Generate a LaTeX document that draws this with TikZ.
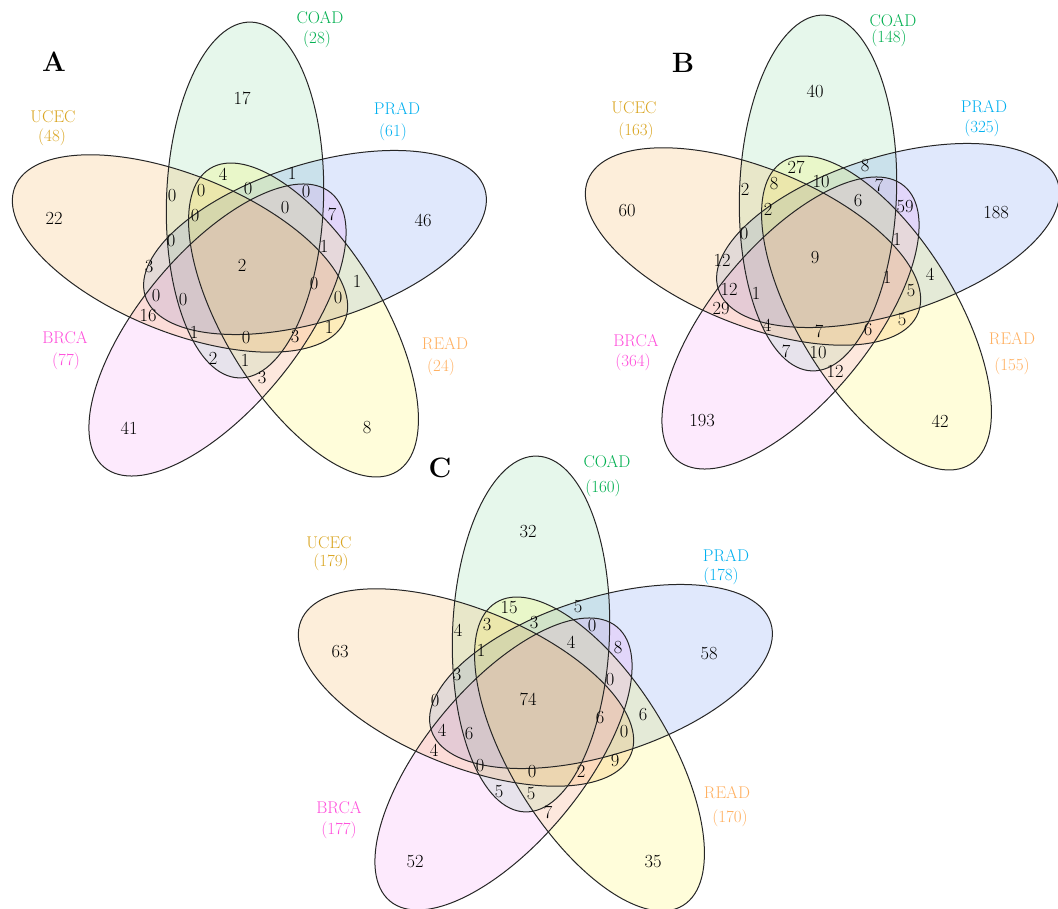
\documentclass[tikz,border=0pt]{standalone}
\usepackage{fontspec}
\definecolor{coadF}{RGB}{88,208,122}
\definecolor{pradF}{RGB}{48,102,235}
\definecolor{readF}{RGB}{255,248,8}
\definecolor{brcaF}{RGB}{242,115,242}
\definecolor{ucecF}{RGB}{248,142,8}
\definecolor{coadT}{RGB}{0,176,80}
\definecolor{ucecT}{RGB}{218,165,32}
\definecolor{pradT}{RGB}{0,176,240}
\definecolor{brcaT}{RGB}{255,80,220}
\definecolor{readT}{RGB}{255,176,96}
\tikzset{
  vline/.style={draw=black!85, line width=1pt},
  num/.style={inner sep=0pt, font=\fontsize{18.5}{20}\selectfont},
  setlab/.style={inner sep=0pt, font=\fontsize{17}{19}\selectfont},
  panel/.style={inner sep=0pt, font=\fontsize{28}{30}\selectfont\bfseries},
}
\newcommand\vennellipses{%
  \foreach \cx/\cy/\ang/\col in {245/200/88/coadF, 315/242.5/17.5/pradF, 303.5/320/-58.3/readF, 217.5/330/50.4/brcaF, 180/253.5/158/ucecF}{
    \fill[fill=\col, fill opacity=0.15, rotate around={\ang:(\cx,\cy)}] (\cx,\cy) ellipse [x radius=178pt, y radius=78.5pt];
  }
  \foreach \cx/\cy/\ang in {245/200/88, 315/242.5/17.5, 303.5/320/-58.3, 217.5/330/50.4, 180/253.5/158}{
    \draw[vline, rotate around={\ang:(\cx,\cy)}] (\cx,\cy) ellipse [x radius=178pt, y radius=78.5pt];
  }
}
\begin{document}
\begin{tikzpicture}[x=1pt,y=-1pt]
\clip (0,0) rectangle (1058,909);
\fill[white] (0,0) rectangle (1058,909);

% ---------------- A ----------------
\begin{scope}
\vennellipses
\foreach \x/\y/\v [count=\i] in {242/98/17, 54/218/22, 423/220/46, 129/428/41, 367/428/8, 242/265/2,
  223/174/4, 292/173/1, 172/196/0, 201/191/0, 248/189/0, 306/192/0, 285/208/0, 332/214/7, 195/216/0,
  171/241/0, 324/246/1, 149/267/3, 314/284/0, 357/281/1, 156/296/0, 183/300/0, 338/298/0, 148/316/16,
  329/327/1, 194/332/1, 246/338/0, 295/337/3, 213/358/2, 245/360/1, 262/378/3}
  {\node[num] (a\i) at (\x,\y) {\v};}
\end{scope}
\node[panel] (pA) at (54,62) {A};
\node[setlab, text=coadT] (aCOAD) at (320,18) {COAD};
\node[setlab, text=coadT] (aCOADn) at (317,39) {(28)};
\node[setlab, text=ucecT] (aUCEC) at (53,117) {UCEC};
\node[setlab, text=ucecT] (aUCECn) at (52,137) {(48)};
\node[setlab, text=pradT] (aPRAD) at (397,109) {PRAD};
\node[setlab, text=pradT] (aPRADn) at (393,132) {(61)};
\node[setlab, text=brcaT] (aBRCA) at (65,338) {BRCA};
\node[setlab, text=brcaT] (aBRCAn) at (66,361) {(77)};
\node[setlab, text=readT] (aREAD) at (445,344) {READ};
\node[setlab, text=readT] (aREADn) at (441,367) {(24)};

% ---------------- B ----------------
\begin{scope}[shift={(573,-7)}]
\vennellipses
\foreach \x/\y/\v [count=\i] in {242/98/40, 54/218/60, 423/220/188, 129/428/193, 367/428/42, 242/265/9,
  223/174/27, 292/173/8, 172/196/2, 201/191/8, 248/189/10, 306/192/7, 285/208/6, 332/214/59, 195/216/2,
  171/241/0, 324/246/1, 149/267/12, 314/284/1, 357/281/4, 156/296/12, 183/300/1, 338/298/5, 148/316/29,
  329/327/5, 194/332/4, 246/338/7, 295/337/6, 213/358/7, 245/360/10, 262/378/12}
  {\node[num] (b\i) at (\x,\y) {\v};}
\end{scope}
\node[panel] (pB) at (683,63) {B};
\node[setlab, text=coadT] (bCOAD) at (893,21) {COAD};
\node[setlab, text=coadT] (bCOADn) at (889,38) {(148)};
\node[setlab, text=ucecT] (bUCEC) at (634,108) {UCEC};
\node[setlab, text=ucecT] (bUCECn) at (636,131) {(163)};
\node[setlab, text=pradT] (bPRAD) at (984,107) {PRAD};
\node[setlab, text=pradT] (bPRADn) at (982,128) {(325)};
\node[setlab, text=brcaT] (bBRCA) at (636,341) {BRCA};
\node[setlab, text=brcaT] (bBRCAn) at (633,362) {(364)};
\node[setlab, text=readT] (bREAD) at (1012,339) {READ};
\node[setlab, text=readT] (bREADn) at (1012,366) {(155)};

% ---------------- C ----------------
\begin{scope}[shift={(286,434)}]
\vennellipses
\foreach \x/\y/\v [count=\i] in {242/98/32, 54/218/63, 423/220/58, 129/428/52, 367/428/35, 242/265/74,
  223/174/15, 292/173/5, 172/196/4, 201/191/3, 248/189/3, 306/192/0, 285/208/4, 332/214/8, 195/216/1,
  171/241/3, 324/246/0, 149/267/0, 314/284/6, 357/281/6, 156/296/4, 183/300/6, 338/298/0, 148/316/4,
  329/327/9, 194/332/0, 246/338/0, 295/337/2, 213/358/5, 245/360/5, 262/378/7}
  {\node[num] (c\i) at (\x,\y) {\v};}
\end{scope}
\node[panel] (pC) at (440,468) {C};
\node[setlab, text=coadT] (cCOAD) at (607,462) {COAD};
\node[setlab, text=coadT] (cCOADn) at (603,488) {(160)};
\node[setlab, text=ucecT] (cUCEC) at (329,543) {UCEC};
\node[setlab, text=ucecT] (cUCECn) at (331,562) {(179)};
\node[setlab, text=pradT] (cPRAD) at (726,556) {PRAD};
\node[setlab, text=pradT] (cPRADn) at (721,576) {(178)};
\node[setlab, text=brcaT] (cBRCA) at (339,808) {BRCA};
\node[setlab, text=brcaT] (cBRCAn) at (339,830) {(177)};
\node[setlab, text=readT] (cREAD) at (727,793) {READ};
\node[setlab, text=readT] (cREADn) at (730,818) {(170)};
\end{tikzpicture}
\end{document}
